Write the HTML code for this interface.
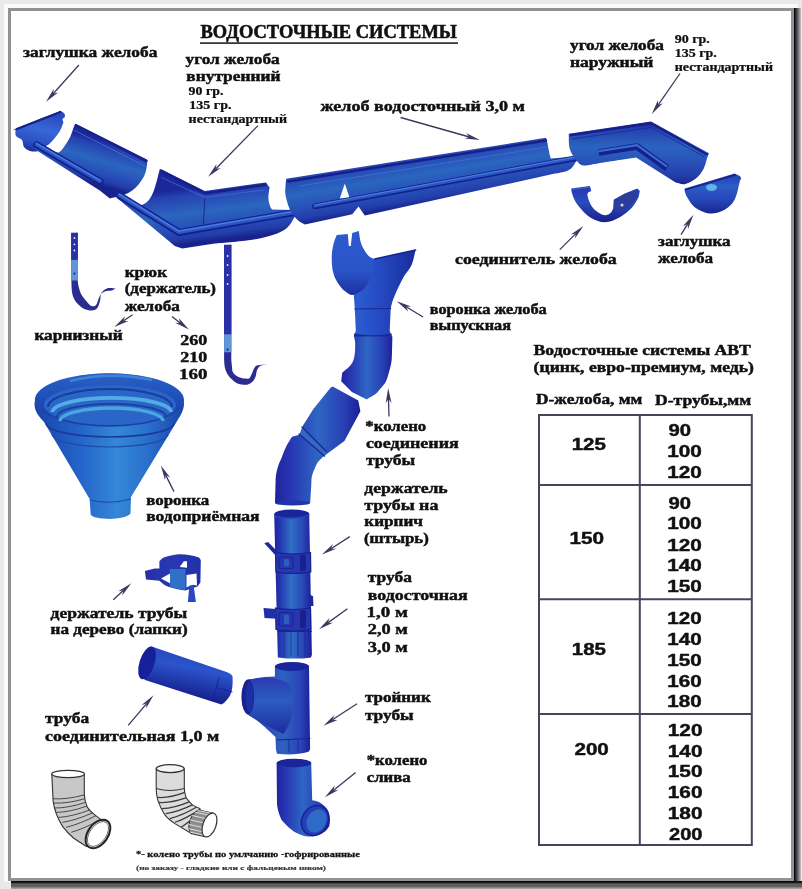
<!DOCTYPE html>
<html><head><meta charset="utf-8"><style>
html,body{margin:0;padding:0;}
body{width:802px;height:889px;background:#e8e8e8;position:relative;overflow:hidden;}
svg{position:absolute;left:0;top:0;will-change:transform;}
</style></head><body>
<svg width="802" height="889" viewBox="0 0 802 889">
<defs>
<linearGradient id="shR" x1="0" x2="1" y1="0" y2="0">
<stop offset="0" stop-color="#18181e"/><stop offset="0.2" stop-color="#202028"/><stop offset="0.4" stop-color="#4a4a52"/><stop offset="0.6" stop-color="#6c6c74"/><stop offset="0.8" stop-color="#9a9aa2"/><stop offset="1" stop-color="#c8c8c8"/>
</linearGradient>
<linearGradient id="shB" x1="0" x2="0" y1="0" y2="1">
<stop offset="0" stop-color="#101010"/><stop offset="0.2" stop-color="#1c1c1c"/><stop offset="0.35" stop-color="#555"/><stop offset="0.5" stop-color="#6a6a6a"/><stop offset="0.6" stop-color="#4c4c4c"/><stop offset="0.75" stop-color="#777"/><stop offset="0.9" stop-color="#999"/><stop offset="1" stop-color="#b0b0b0"/>
</linearGradient>
</defs>
<rect x="0" y="0" width="802" height="889" fill="#e9e9e9"/>
<rect x="4" y="4" width="794" height="878" fill="#fafafa"/>
<rect x="8" y="8" width="786" height="873" fill="#929292"/>
<rect x="11" y="11" width="780" height="867" fill="#ffffff"/>
<rect x="794" y="8" width="7" height="881" fill="url(#shR)"/>
<rect x="794" y="8" width="1" height="874" fill="#08080c"/>
<rect x="11" y="881" width="791" height="8" fill="url(#shB)"/>
<rect x="11" y="881" width="784" height="1.2" fill="#0c0c0c"/>
<path d="M71.2,233.5 L77.7,232.7 L77.7,281.0 C77.9,282.0 78.2,284.9 78.8,287.2 C79.4,289.5 80.2,292.3 81.5,294.7 C82.8,297.1 85.1,299.5 86.7,301.4 C88.3,303.3 89.8,305.1 91.2,305.9 C92.6,306.6 93.9,306.4 94.9,305.9 C95.9,305.4 96.6,304.1 97.2,302.9 C97.8,301.6 98.0,300.0 98.7,298.4 C99.4,296.8 100.2,294.4 101.6,293.2 C103.0,291.9 105.3,291.3 106.9,290.9 C108.5,290.5 110.0,291.0 111.4,290.6 C112.9,290.2 114.9,288.8 115.6,288.4 C114.4,288.3 110.5,287.6 108.4,288.0 C106.3,288.4 104.3,289.9 103.1,290.9 C101.8,291.9 101.4,292.4 100.9,293.9 C100.4,295.4 100.6,298.0 100.2,299.9 C99.8,301.8 99.3,303.7 98.7,305.2 C98.1,306.7 97.5,308.0 96.4,308.9 C95.3,309.8 93.7,310.3 91.9,310.4 C90.2,310.5 87.9,310.4 85.9,309.6 C83.9,308.9 81.9,307.5 80.0,305.9 C78.1,304.3 76.0,302.1 74.7,299.9 C73.4,297.6 72.6,295.5 72.1,292.4 C71.5,289.2 71.5,282.9 71.4,281.0 L71.2,233.5 Z" fill="#2a2c92" />
<rect x="71.2" y="232.7" width="6.6" height="27.199999999999978" fill="#2a30a6"/>
<rect x="71.2" y="259.9" width="6.6" height="20.600000000000023" fill="#5e96d8"/>
<circle cx="74.4" cy="238" r="0.9" fill="#e8eeff"/>
<circle cx="74.4" cy="244.3" r="0.9" fill="#e8eeff"/>
<circle cx="74.4" cy="250.5" r="0.9" fill="#e8eeff"/>
<circle cx="74.4" cy="273.6" r="1.1" fill="#1a2a90"/>
<path d="M224.1,245.5 L231.3,244.7 L231.3,359.5 C231.4,360.8 231.8,364.9 232.0,367.0 C232.2,369.1 232.1,370.7 232.8,372.1 C233.5,373.5 234.8,374.6 236.0,375.5 C237.2,376.4 238.6,377.0 240.0,377.5 C241.4,378.0 243.0,378.4 244.5,378.5 C246.0,378.6 247.9,378.9 249.0,378.4 C250.1,377.9 250.4,376.6 251.0,375.5 C251.6,374.4 252.1,373.3 252.6,372.1 C253.1,370.9 253.4,369.6 254.0,368.5 C254.6,367.4 255.2,366.4 256.2,365.8 C257.2,365.2 258.0,365.3 260.0,365.0 C262.0,364.7 266.7,364.3 268.0,364.2 C267.2,364.3 264.7,364.5 263.3,364.9 C261.9,365.3 260.6,365.6 259.5,366.5 C258.4,367.4 257.6,368.9 257.0,370.3 C256.4,371.7 256.4,373.5 256.0,375.0 C255.6,376.5 255.2,378.1 254.4,379.3 C253.7,380.6 252.7,381.6 251.5,382.5 C250.3,383.4 248.9,384.4 247.2,384.7 C245.5,385.0 243.3,384.8 241.5,384.5 C239.7,384.2 238.1,383.8 236.4,382.9 C234.7,382.0 233.0,380.5 231.5,379.0 C230.0,377.5 228.5,375.7 227.4,373.9 C226.3,372.1 225.6,370.4 225.0,368.0 C224.4,365.6 224.2,360.9 224.1,359.5 L224.1,245.5 Z" fill="#2a2c92" />
<rect x="224.1" y="244.7" width="7.300000000000017" height="89.60000000000001" fill="#2a30a6"/>
<rect x="224.1" y="334.3" width="7.300000000000017" height="18.0" fill="#5e96d8"/>
<circle cx="227.6" cy="256" r="0.9" fill="#e8eeff"/>
<circle cx="227.6" cy="265" r="0.9" fill="#e8eeff"/>
<circle cx="227.6" cy="275" r="0.9" fill="#e8eeff"/>
<circle cx="227.6" cy="284" r="0.9" fill="#e8eeff"/>
<circle cx="227.6" cy="349.6" r="1.1" fill="#1a2a90"/>
<linearGradient id="gFn" gradientUnits="userSpaceOnUse" x1="35" y1="0" x2="184" y2="0"><stop offset="0" stop-color="#1a44ac"/><stop offset="0.3" stop-color="#2464c8"/><stop offset="0.55" stop-color="#3488d8"/><stop offset="0.75" stop-color="#2a70cc"/><stop offset="1" stop-color="#1a44aa"/></linearGradient>
<path d="M34.5,404 C34.5,388 70,373.2 109.8,373.2 C150,373.2 184,387 184,403.5 C184,411 179.5,417 176.5,422 L131,497 L130.5,513.6 C126,520.5 94,520.5 90.7,514.5 L89.6,499 L44,422 C38.5,416 34.5,411 34.5,404 Z" fill="url(#gFn)" />
<linearGradient id="gFr" gradientUnits="userSpaceOnUse" x1="0" y1="373" x2="0" y2="428"><stop offset="0" stop-color="#2a62c8"/><stop offset="0.5" stop-color="#1e4cb4"/><stop offset="1" stop-color="#1a3ea4"/></linearGradient>
<ellipse cx="109.4" cy="400" rx="74.6" ry="26.8" fill="url(#gFr)"/>
<ellipse cx="110" cy="405" rx="66" ry="20" fill="#2a66c8"/>
<path d="M48,407 A62,18 0 0 1 172,407" fill="none" stroke="#1a3c9c" stroke-width="2.2"/>
<path d="M52.5,412 A59,14 0 0 1 171,412" fill="none" stroke="#52ade6" stroke-width="3.8"/>
<path d="M57,417 A54,13 0 0 1 166,417" fill="none" stroke="#1c3e9e" stroke-width="1.8"/>
<path d="M60,421 A51.5,13 0 0 1 163,421" fill="none" stroke="#4aa6e2" stroke-width="3.4"/>
<path d="M70,381 Q110,371 152,380" fill="none" stroke="#3a86d4" stroke-width="2.5"/>
<path d="M46,423 A64,14 0 0 0 174,423" fill="none" stroke="#1a3a98" stroke-width="1.6"/>
<path d="M52,434 A58,13 0 0 0 168,434" fill="none" stroke="#1e4aa8" stroke-width="1.2"/>
<path d="M90,500 Q110,505 130.5,499" fill="none" stroke="#1c4aa8" stroke-width="1.2"/>
<linearGradient id="gDP" gradientUnits="userSpaceOnUse" x1="332" y1="0" x2="416" y2="0"><stop offset="0" stop-color="#2046b8"/><stop offset="0.3" stop-color="#2c5cd0"/><stop offset="0.6" stop-color="#2448c0"/><stop offset="1" stop-color="#1a2c9c"/></linearGradient>
<path d="M374.7,258.9 L415.6,249.9 C414.9,252.4 413.6,260.4 411.6,264.9 C409.6,269.4 405.9,272.9 403.6,276.9 C401.3,280.9 399.5,284.8 397.7,288.8 C395.9,292.8 393.9,297.5 392.7,300.8 C391.5,304.1 391.0,307.5 390.7,308.8 L389.7,330.7 L391.7,337.0 L353.8,337.0 L355.8,330.7 L354.8,308.8 L353.8,294.8 L374.7,258.9 Z" fill="url(#gDP)" />
<linearGradient id="gHood" gradientUnits="userSpaceOnUse" x1="0" y1="232" x2="0" y2="296"><stop offset="0" stop-color="#2c5ad0"/><stop offset="0.6" stop-color="#2a54c8"/><stop offset="1" stop-color="#1c2e9e"/></linearGradient>
<path d="M336.8,235.0 L347.8,234.0 L348.8,245.9 L350.8,245.9 L352.2,233.0 L358.8,231.0 C359.1,232.8 359.9,239.0 360.7,242.0 C361.5,245.0 362.4,246.7 363.7,249.0 C365.0,251.3 366.9,254.2 368.7,255.9 C370.5,257.6 373.7,258.5 374.7,259.0 C374.5,260.2 374.0,263.7 373.5,266.0 C373.0,268.3 373.0,269.4 371.7,272.9 C370.4,276.4 368.7,283.1 365.7,286.8 C362.7,290.5 357.1,294.0 353.8,294.8 C350.5,295.6 348.5,293.8 345.8,291.8 C343.1,289.8 340.0,286.4 337.8,282.9 C335.6,279.4 333.8,275.6 332.8,270.9 C331.8,266.2 331.6,259.6 331.8,254.9 C332.0,250.2 333.0,246.3 333.8,243.0 C334.6,239.7 336.3,236.3 336.8,235.0 Z" fill="url(#gHood)" />
<path d="M374.7,259.0 L415.6,250.0" fill="none" stroke="#1a2490" stroke-width="1.6" stroke-linecap="round"/>
<path d="M354.8,309.0 L390.7,308.5" fill="none" stroke="#1a2890" stroke-width="1.2" stroke-linecap="round"/>
<path d="M353.8,333.5 Q372,337 391.7,333.5 L391.7,341.5 Q372,345 355,341.5 Z" fill="#1a2a98"/>
<linearGradient id="gEl1" gradientUnits="userSpaceOnUse" x1="341" y1="0" x2="393" y2="0"><stop offset="0" stop-color="#2222a0"/><stop offset="0.2" stop-color="#2838b4"/><stop offset="0.5" stop-color="#2e66c4"/><stop offset="0.8" stop-color="#2840b4"/><stop offset="1" stop-color="#1c1e96"/></linearGradient>
<path d="M355.0,336.5 L392.4,336.5 C392.3,339.1 392.2,347.8 392.0,352.0 C391.8,356.2 391.9,358.7 391.4,362.0 C390.9,365.3 389.9,368.8 389.0,372.0 C388.1,375.2 387.3,378.6 386.0,381.3 C384.7,384.0 382.8,385.9 381.0,388.0 C379.2,390.1 377.8,392.2 375.4,394.1 C373.0,396.0 368.2,398.5 366.8,399.4 L351.9,392.0 L341.2,381.3 L342.2,372.7 C343.4,371.6 347.8,368.4 349.7,366.3 C351.6,364.2 352.6,362.7 353.5,360.0 C354.4,357.3 354.9,353.9 355.1,350.0 C355.4,346.1 355.0,338.8 355.0,336.5 Z" fill="url(#gEl1)" />
<linearGradient id="gEl2" gradientUnits="userSpaceOnUse" x1="275" y1="0" x2="361" y2="0"><stop offset="0" stop-color="#2222a0"/><stop offset="0.2" stop-color="#2838b4"/><stop offset="0.5" stop-color="#2e66c4"/><stop offset="0.8" stop-color="#2840b4"/><stop offset="1" stop-color="#1c1e96"/></linearGradient>
<path d="M332.6,386.6 L358.3,400.5 L360.4,411.2 L344.4,441.1 L324.1,456.0 C323.1,457.0 319.4,460.2 318.0,462.0 C316.6,463.8 316.5,464.4 315.5,466.7 C314.5,469.0 312.7,472.9 312.0,476.0 C311.3,479.1 311.6,480.5 311.3,485.0 C311.0,489.5 310.4,500.0 310.2,503.0 L275.0,503.0 C275.1,500.0 275.3,489.7 275.5,485.0 C275.7,480.3 275.5,478.3 276.0,475.0 C276.5,471.7 277.6,467.8 278.5,465.0 C279.4,462.2 280.1,461.2 281.4,458.2 C282.6,455.2 284.2,450.6 286.0,447.0 C287.8,443.4 291.0,438.5 292.0,436.8 L299.5,434.7 L302.7,426.1 L313.4,409.0 L330.5,387.7 L332.6,386.6 Z" fill="url(#gEl2)" />
<path d="M302.5,427.5 L327,451 L324.5,456 L299.5,434.5 Z" fill="#3468c4" />
<path d="M302.0,427.0 L326.5,451.5" fill="none" stroke="#1a2890" stroke-width="1.5" stroke-linecap="round"/>
<path d="M299.0,434.0 L324.5,456.0" fill="none" stroke="#1a2890" stroke-width="1.4" stroke-linecap="round"/>
<ellipse cx="292.6" cy="503" rx="17.6" ry="2.6" fill="#1e36a8"/>
<linearGradient id="gPp" gradientUnits="userSpaceOnUse" x1="274" y1="0" x2="312" y2="0"><stop offset="0" stop-color="#2222a0"/><stop offset="0.15" stop-color="#2434b0"/><stop offset="0.45" stop-color="#3070c6"/><stop offset="0.75" stop-color="#2a48b8"/><stop offset="1" stop-color="#1c1e96"/></linearGradient>
<path d="M274.2,514.4 C276,509.5 307,508.5 309.2,513.5 L311.9,654.7 L311,657.4 C300,659 290,659 278,657.4 L277.8,656.5 Z" fill="url(#gPp)" />
<ellipse cx="291.7" cy="514" rx="17.3" ry="4.5" fill="#18269a"/>
<path d="M275,516 Q292,521 309.5,515" fill="none" stroke="#2a48c0" stroke-width="1.3"/>
<path d="M275.5,552.5 Q293,555.5 310.5,552.5 L310.8,572 Q293,575 276,572 Z" fill="#2636b0" stroke="#18208e" stroke-width="1.2"/>
<rect x="279" y="557.0" width="14" height="11.5" rx="1.5" fill="none" stroke="#1a2492" stroke-width="1.2"/>
<rect x="284" y="559.0" width="5" height="7.5" rx="1.5" fill="#2e5cc4"/>
<rect x="300" y="554.5" width="6" height="16.5" rx="2.5" fill="#18208e"/>
<path d="M275.5,608 Q293,611 310.5,608 L310.8,629.5 Q293,632.5 276,629.5 Z" fill="#2636b0" stroke="#18208e" stroke-width="1.2"/>
<rect x="279" y="612.5" width="14" height="13.5" rx="1.5" fill="none" stroke="#1a2492" stroke-width="1.2"/>
<rect x="284" y="614.5" width="5" height="9.5" rx="1.5" fill="#2e5cc4"/>
<rect x="300" y="610" width="6" height="18.5" rx="2.5" fill="#18208e"/>
<path d="M264.3,543.2 L268,542 L277,551 L276,556 Z" fill="#1c2a9c" />
<path d="M263.5,608 L276,609 L276.5,618.7 L264.5,618 Z" fill="#1e30a8" />
<path d="M309,594.5 L313,596 L313.5,606 L309.5,606 Z" fill="#1c2a9c" />
<path d="M278.0,631.5 L311.5,631.5" fill="none" stroke="#18229a" stroke-width="1.2" stroke-linecap="round"/>
<path d="M284.0,632.0 L284.0,656.0" fill="none" stroke="#1a2696" stroke-width="0.8" stroke-linecap="round"/>
<path d="M291.0,632.0 L291.0,656.0" fill="none" stroke="#1a2696" stroke-width="0.8" stroke-linecap="round"/>
<path d="M298.0,632.0 L298.0,656.0" fill="none" stroke="#1a2696" stroke-width="0.8" stroke-linecap="round"/>
<path d="M305.0,632.0 L305.0,656.0" fill="none" stroke="#1a2696" stroke-width="0.8" stroke-linecap="round"/>
<linearGradient id="gTee" gradientUnits="userSpaceOnUse" x1="241" y1="0" x2="311" y2="0"><stop offset="0" stop-color="#2222a0"/><stop offset="0.2" stop-color="#2838b4"/><stop offset="0.6" stop-color="#2e62c2"/><stop offset="0.85" stop-color="#2a44b6"/><stop offset="1" stop-color="#1c1e96"/></linearGradient>
<path d="M274.9,666.7 C277,661.5 307,661.5 309,666.7 L310.1,749 L309,751.5 C298,755 288,755 277,753.8 L275.9,749 L275.5,737 C268,730 262,724 255,719 C251,716.5 248.5,715 247,713.5 C243,710 241.5,704 241.5,697 C241.5,689 243.5,683 248,679.8 C258,677.5 266,676.6 274.9,676.4 Z" fill="url(#gTee)" />
<linearGradient id="gBr" gradientUnits="userSpaceOnUse" x1="0" y1="678" x2="0" y2="735"><stop offset="0" stop-color="#2a3cb0"/><stop offset="0.4" stop-color="#2c5cc0"/><stop offset="1" stop-color="#1e2a9c"/></linearGradient>
<path d="M248,679.8 C262,677.5 275,676.5 287.7,682.8 C292,690 294,703 291.9,714.8 C290,723 287,729 283.4,734 C270,727 260,722 255,719 C250,716 247.5,714.5 247,713.5 Z" fill="url(#gBr)" />
<ellipse cx="248" cy="697" rx="6.2" ry="17.4" fill="#1a2290"/>
<ellipse cx="249.5" cy="697" rx="4" ry="15" fill="#1e2ea4"/>
<ellipse cx="292" cy="666.5" rx="17" ry="4.5" fill="#18269a"/>
<path d="M277.0,740.0 L310.0,738.5" fill="none" stroke="#1a2490" stroke-width="1.1" stroke-linecap="round"/>
<path d="M289.0,740.0 L289.0,752.0" fill="none" stroke="#1a2690" stroke-width="0.8" stroke-linecap="round"/>
<path d="M298.0,740.0 L298.0,752.0" fill="none" stroke="#1a2690" stroke-width="0.8" stroke-linecap="round"/>
<linearGradient id="gEl3" gradientUnits="userSpaceOnUse" x1="276" y1="0" x2="330" y2="0"><stop offset="0" stop-color="#2222a0"/><stop offset="0.2" stop-color="#2838b4"/><stop offset="0.5" stop-color="#2e66c4"/><stop offset="0.8" stop-color="#2840b4"/><stop offset="1" stop-color="#1c1e96"/></linearGradient>
<path d="M276.6,762.9 C279,758 309,758 311.2,762.9 L312.2,800.2 C316,801 318,801.5 319.7,802.4 C324,805 327,808 328.2,810.9 C330,815 330.5,820 329.3,825.9 C327,831 321,835 315.4,836 C310,837 306,836.5 302.6,835.5 C298,834 295,832.5 291.9,830.1 C287,826 284,823 281.3,819.5 C279,814 277.5,809 277,804.5 Z" fill="url(#gEl3)" />
<ellipse cx="294" cy="763" rx="17.3" ry="4.3" fill="#18269a"/>
<ellipse cx="315" cy="820.5" rx="13" ry="15.5" transform="rotate(30 315 820.5)" fill="#2440b4" stroke="#1a1e92" stroke-width="1.5"/>
<ellipse cx="316.5" cy="821" rx="9.5" ry="12" transform="rotate(30 316.5 821)" fill="#2e6ac8"/>
<linearGradient id="gHd" gradientUnits="userSpaceOnUse" x1="145" y1="0" x2="201" y2="0"><stop offset="0" stop-color="#2430a8"/><stop offset="0.5" stop-color="#2838b4"/><stop offset="1" stop-color="#2030a8"/></linearGradient>
<path d="M159.4,561.3 C160.2,560.6 161.5,558.4 164.3,557.3 C167.2,556.2 172.4,554.9 176.5,554.5 C180.6,554.1 185.0,554.4 188.6,554.9 C192.2,555.4 196.3,556.4 198.3,557.3 C200.3,558.2 200.4,560.0 200.8,560.5 L200.4,582.4 L197.5,586.5 L185.4,590.5 C183.9,590.2 179.8,589.7 176.5,588.9 C173.2,588.1 168.8,587.1 165.9,585.7 C163.1,584.4 160.5,581.6 159.4,580.8 L146.0,579.5 L144.9,571.0 L154.6,568.5 L159.4,568.5 L159.4,561.3 Z" fill="url(#gHd)" />
<path d="M170,569 L185.5,569 L185.5,590.3 L170,587 Z" fill="#3070c8" />
<path d="M161.1,578.4 L170,573.5 L170,583.2 Z" fill="#fff" />
<path d="M179.7,567 L183.8,561.3 L187,561.3 L187,567.8 Z" fill="#fff" />
<path d="M186.5,575 L196.5,573.5 L197,585.5 L193.5,585 L189.5,586 L186.5,587.5 Z" fill="#fff" />
<path d="M189.4,585.7 L193.5,584.8 L195.9,601.9 L187.8,601.9 Z" fill="#2c48c0" />
<linearGradient id="gCP" gradientUnits="userSpaceOnUse" x1="170" y1="640" x2="160" y2="690"><stop offset="0" stop-color="#2040b8"/><stop offset="0.45" stop-color="#2c54cc"/><stop offset="1" stop-color="#16228e"/></linearGradient>
<path d="M150.9,646.2 L225.8,671.7 C229.5,673 231.5,674.5 232.5,676.1 C233,684 232.5,690 230.3,694.9 C228,699 225,702.5 221.3,704.6 L145,679.9 C141,676 139.5,672 139.7,667 C140,658 145,648 150.9,646.2 Z" fill="url(#gCP)" />
<ellipse cx="147" cy="663" rx="7.5" ry="17" transform="rotate(18 147 663)" fill="#16209a"/>
<path d="M219.0,678.0 L213.0,700.0" fill="none" stroke="#17209a" stroke-width="1.0" stroke-linecap="round"/>
<path d="M218.0,688.0 L232.0,692.0" fill="none" stroke="#17209a" stroke-width="1.0" stroke-linecap="round"/><linearGradient id="gEC" gradientUnits="userSpaceOnUse" x1="40" y1="112" x2="30" y2="152"><stop offset="0" stop-color="#2a48c0"/><stop offset="0.4" stop-color="#3668d6"/><stop offset="0.75" stop-color="#2a50c4"/><stop offset="1" stop-color="#1a2a98"/></linearGradient>
<path d="M15.5,130.0 C15.8,129.7 9.5,131.2 17.0,128.0 C24.5,124.8 53.2,113.8 60.4,111.0 C61.1,111.4 63.7,112.5 64.4,113.5 C65.2,114.5 64.8,116.4 64.9,117.0 L62.4,119.0 L63.4,122.5 C62.8,123.9 61.5,128.2 59.9,130.9 C58.3,133.6 55.9,136.6 53.9,138.9 C51.9,141.2 50.2,143.2 47.9,144.9 C45.6,146.6 41.8,147.9 40.0,149.0 C38.2,150.1 38.6,151.1 36.9,151.4 C35.2,151.7 32.1,151.7 30.0,150.9 C27.9,150.2 25.3,148.7 24.0,146.9 C22.7,145.1 23.3,141.7 22.0,139.9 C20.7,138.1 17.1,137.6 16.0,135.9 C14.9,134.2 15.6,131.0 15.5,130.0 Z" fill="url(#gEC)" />
<path d="M17.0,129.0 L60.4,112.0" fill="none" stroke="#1a2288" stroke-width="2.2" stroke-linecap="round"/>
<linearGradient id="gS1" gradientUnits="userSpaceOnUse" x1="100" y1="140" x2="88" y2="182"><stop offset="0" stop-color="#1c2898"/><stop offset="0.12" stop-color="#2642b2"/><stop offset="0.45" stop-color="#2a66bf"/><stop offset="0.7" stop-color="#2850b8"/><stop offset="0.88" stop-color="#223eaa"/><stop offset="1" stop-color="#18228c"/></linearGradient>
<path d="M75.3,123.7 L146.7,159.4 L147.2,163.6 C146.8,165.5 146.4,171.1 144.7,174.8 C143.0,178.5 140.1,182.9 137.2,186.0 C134.3,189.1 130.9,191.6 127.2,193.5 C123.5,195.4 117.6,196.5 114.7,197.3 C111.8,198.1 110.6,198.3 109.8,198.5 L99.8,190.5 L39.9,152.4 C38.9,151.7 35.1,149.5 34.0,148.0 C32.9,146.5 33.0,144.8 33.2,143.6 C33.4,142.4 34.7,141.4 35.0,141.0 L49.9,148.6 C50.5,149.0 52.1,150.5 53.6,151.1 C55.1,151.7 56.9,153.0 58.6,152.4 C60.3,151.8 61.7,149.9 63.6,147.4 C65.5,144.9 68.2,140.7 69.9,137.4 C71.6,134.1 73.0,129.1 73.6,127.4 L75.3,123.7 Z" fill="url(#gS1)" />
<path d="M76.0,125.3 L146.5,161.0" fill="none" stroke="#18228a" stroke-width="2.6" stroke-linecap="round"/>
<path d="M74.5,130.5 L145.0,166.0" fill="none" stroke="#4a78e0" stroke-width="0.7" stroke-linecap="round"/>
<path d="M36.5,144.8 L100.0,181.5" fill="none" stroke="#16208a" stroke-width="6.8" stroke-linejoin="round" stroke-linecap="round"/>
<path d="M36.5,144.4 L100.0,181.1" fill="none" stroke="#2a56c6" stroke-width="3.9439999999999995" stroke-linejoin="round" stroke-linecap="round"/>
<path d="M36.5,143.5 L100.0,180.2" fill="none" stroke="#4a82e0" stroke-width="1.1560000000000001" stroke-linejoin="round" stroke-linecap="round"/>
<linearGradient id="gS2" gradientUnits="userSpaceOnUse" x1="215" y1="185" x2="222" y2="240"><stop offset="0" stop-color="#1c2898"/><stop offset="0.12" stop-color="#2642b2"/><stop offset="0.45" stop-color="#2a66bf"/><stop offset="0.7" stop-color="#2850b8"/><stop offset="0.88" stop-color="#223eaa"/><stop offset="1" stop-color="#18228c"/></linearGradient>
<path d="M159.9,168.7 L204.8,191.1 L265.9,182.4 L269.6,187.4 C269.4,189.0 268.4,194.1 268.4,197.0 C268.4,199.9 269.0,202.7 269.6,204.8 C270.2,206.9 271.6,208.8 272.0,209.6 L294.5,209.9 C295.0,210.3 297.1,211.5 297.5,212.5 C297.9,213.5 297.1,215.5 297.0,216.1 L294.5,217.3 C292.9,219.4 290.4,226.3 284.6,229.8 C278.8,233.3 271.2,236.2 259.6,238.5 C248.0,240.8 222.2,242.7 214.7,243.5 L182.3,248.5 L174.8,246.0 L122.5,202.4 C121.7,201.8 118.5,199.8 117.5,198.6 C116.5,197.4 116.5,196.0 116.5,195.0 C116.5,194.0 117.3,192.8 117.5,192.4 L122.5,194.9 C124.2,195.9 129.5,199.4 132.4,201.1 C135.3,202.8 137.8,204.5 139.9,204.9 C142.0,205.3 143.2,204.7 144.9,203.6 C146.6,202.5 148.2,201.3 149.9,198.6 C151.6,195.9 153.5,191.6 154.9,187.4 C156.3,183.2 158.0,176.0 158.6,173.7 L159.9,168.7 Z" fill="url(#gS2)" />
<path d="M161.0,170.8 L204.8,193.3 L266.5,184.6" fill="none" stroke="#17208a" stroke-width="2.8" stroke-linejoin="round"/>
<path d="M161.1,177.4 L204.8,197.4 L264.6,189.9" fill="none" stroke="#4470dc" stroke-width="0.7" stroke-linejoin="round"/>
<path d="M204.8,198.6 L203.5,223.6" fill="none" stroke="#1a2890" stroke-width="1.0" stroke-linecap="round"/>
<path d="M119.5,195.5 L179.0,232.5 L295.0,212.5" fill="none" stroke="#16208a" stroke-width="7.0" stroke-linejoin="round" stroke-linecap="round"/>
<path d="M119.5,195.1 L179.0,232.1 L295.0,212.1" fill="none" stroke="#2a56c6" stroke-width="4.06" stroke-linejoin="round" stroke-linecap="round"/>
<path d="M119.5,194.2 L179.0,231.2 L295.0,211.2" fill="none" stroke="#4a82e0" stroke-width="1.1900000000000002" stroke-linejoin="round" stroke-linecap="round"/>
<linearGradient id="gS3" gradientUnits="userSpaceOnUse" x1="415" y1="150" x2="424" y2="205"><stop offset="0" stop-color="#1c2898"/><stop offset="0.12" stop-color="#2642b2"/><stop offset="0.45" stop-color="#2a66bf"/><stop offset="0.7" stop-color="#2850b8"/><stop offset="0.88" stop-color="#223eaa"/><stop offset="1" stop-color="#18228c"/></linearGradient>
<path d="M286.2,178.8 L546.0,137.7 L547.3,142.4 C547.7,144.5 549.2,152.2 549.8,154.9 C550.4,157.6 550.8,158.0 551.0,158.6 L579.5,156.3 C579.6,156.7 580.5,157.7 580.0,158.5 C579.5,159.3 577.8,159.6 576.5,161.0 C575.2,162.4 574.1,165.3 572.5,167.0 C570.9,168.7 569.8,169.8 566.9,170.9 C564.0,172.0 557.0,173.1 555.0,173.5 L364.8,215.5 L358.5,206.5 L352.3,214.2 L304.9,224.5 C303.6,223.7 299.9,222.2 297.4,219.7 C294.9,217.2 292.0,213.8 290.0,209.7 C288.0,205.6 286.2,199.1 285.5,195.0 C284.8,190.9 285.5,187.7 285.6,185.0 C285.7,182.3 286.1,179.8 286.2,178.8 Z" fill="url(#gS3)" />
<path d="M344.8,183.5 L339.8,198.5 L349.8,198.5 Z" fill="#fff" />
<path d="M288.0,181.5 L546.0,140.5" fill="none" stroke="#17208a" stroke-width="2.4" stroke-linecap="round"/>
<path d="M300.0,186.0 L547.0,147.0" fill="none" stroke="#4470dc" stroke-width="0.8" stroke-linecap="round"/>
<path d="M315.0,206.3 L578.0,157.8" fill="none" stroke="#16208a" stroke-width="5.8" stroke-linejoin="round" stroke-linecap="round"/>
<path d="M315.0,205.9 L578.0,157.4" fill="none" stroke="#2a56c6" stroke-width="3.364" stroke-linejoin="round" stroke-linecap="round"/>
<path d="M315.0,205.0 L578.0,156.5" fill="none" stroke="#4a82e0" stroke-width="0.986" stroke-linejoin="round" stroke-linecap="round"/>
<linearGradient id="gOC" gradientUnits="userSpaceOnUse" x1="640" y1="122" x2="640" y2="185"><stop offset="0" stop-color="#1c2898"/><stop offset="0.12" stop-color="#2642b2"/><stop offset="0.4" stop-color="#2a64be"/><stop offset="0.65" stop-color="#2850b8"/><stop offset="0.85" stop-color="#223eaa"/><stop offset="1" stop-color="#18228c"/></linearGradient>
<path d="M568.7,133.7 L651.0,121.5 L709.0,153.3 L707.1,158.0 C706.5,159.9 705.3,165.8 703.4,169.2 C701.5,172.6 699.0,176.1 695.9,178.6 C692.8,181.1 688.1,183.6 684.7,184.2 C681.3,184.8 676.9,182.6 675.3,182.3 L636.1,157.5 C630.1,158.4 608.7,161.7 600.0,163.0 C591.3,164.3 587.7,166.0 583.7,165.5 C579.7,165.0 578.5,162.7 576.2,159.9 C573.9,157.1 571.0,153.1 569.7,148.7 C568.5,144.3 568.9,136.2 568.7,133.7 Z" fill="url(#gOC)" />
<path d="M570.0,135.3 L651.0,123.3 L707.5,154.8" fill="none" stroke="#17208a" stroke-width="2.4" stroke-linejoin="round"/>
<path d="M572.0,139.0 L651.0,127.5 L704.0,156.5" fill="none" stroke="#1e2a9a" stroke-width="0.9" stroke-linejoin="round"/>
<path d="M598.7,152.5 L637.0,146.5 L666.9,168.0" fill="none" stroke="#16208a" stroke-width="6.5" stroke-linejoin="round"/>
<path d="M598.7,151.2 L637.0,145.2 L666.9,166.7" fill="none" stroke="#3a6ad6" stroke-width="2.2" stroke-linejoin="round"/>
<linearGradient id="gCN" gradientUnits="userSpaceOnUse" x1="600" y1="186" x2="600" y2="222"><stop offset="0" stop-color="#2438b0"/><stop offset="0.45" stop-color="#2a4cbc"/><stop offset="1" stop-color="#18208c"/></linearGradient>
<path d="M571.2,188.5 L589.9,186.0 L591.2,191.0 C590.6,191.6 587.2,192.1 587.4,194.8 C587.6,197.5 589.9,203.9 592.4,207.2 C594.9,210.5 599.5,213.6 602.4,214.7 C605.3,215.8 608.0,214.8 609.9,213.5 C611.8,212.2 613.0,209.3 613.6,207.0 C614.2,204.7 613.6,201.0 613.6,199.8 L624.8,193.5 L637.3,188.5 L639.8,191.0 L638.6,197.3 C637.5,199.0 635.4,203.9 632.3,207.2 C629.2,210.5 624.4,214.7 619.8,217.2 C615.2,219.7 609.9,222.2 604.9,222.2 C599.9,222.2 594.5,220.1 589.9,217.2 C585.3,214.3 580.4,208.4 577.5,204.7 C574.6,201.0 573.5,197.5 572.5,194.8 C571.5,192.1 571.4,189.6 571.2,188.5 Z" fill="url(#gCN)" />
<path d="M614.0,200.0 L624.8,194.0 L637.0,189.5 L637.5,196.0 C636.4,197.5 633.8,202.3 631.0,205.0 C628.2,207.7 623.8,211.3 621.0,212.0 C618.2,212.7 615.2,211.0 614.0,209.0 C612.8,207.0 614.0,201.5 614.0,200.0 Z" fill="#2a3c9c" />
<circle cx="622" cy="205" r="1.6" fill="#c8d4f0"/>
<path d="M573.0,189.5 L589.5,187.0" fill="none" stroke="#3a66d0" stroke-width="1.2" stroke-linecap="round"/>
<linearGradient id="gEC2" gradientUnits="userSpaceOnUse" x1="712" y1="174" x2="712" y2="214"><stop offset="0" stop-color="#2040b0"/><stop offset="0.3" stop-color="#2c5cc8"/><stop offset="0.65" stop-color="#2646b8"/><stop offset="1" stop-color="#18248e"/></linearGradient>
<path d="M684.7,188.5 L734.6,173.6 C735.6,174.2 740.0,175.9 740.8,177.3 C741.6,178.8 740.6,178.6 739.6,182.3 C738.6,186.1 737.1,195.2 734.6,199.8 C732.1,204.4 728.8,207.4 724.6,209.7 C720.4,212.0 714.6,213.9 709.6,213.5 C704.6,213.1 698.4,209.9 694.7,207.2 C691.0,204.5 688.9,200.0 687.2,197.3 C685.5,194.6 685.1,192.5 684.7,191.0 C684.3,189.5 684.7,188.9 684.7,188.5 Z" fill="url(#gEC2)" />
<path d="M686.0,189.5 L735.0,175.0" fill="none" stroke="#17208a" stroke-width="1.8" stroke-linecap="round"/>
<ellipse cx="711.5" cy="187.5" rx="5.5" ry="3.4" fill="#62b2ea"/><defs><clipPath id="cE1"><path d="M51.8,774 L53.1,801.1 C54.5,811 58,819 62.4,826.1 C66,831 70,835 74,838.5 L86.5,846.5 L107.5,820.5 L103.6,821.1 C99,818 97,817 94.9,814.9 C91,812 88.5,809 87.4,807.4 C85.5,803 84.5,799 84.3,794.9 L84.3,774 Z"/></clipPath><clipPath id="cE2"><path d="M156.2,768.7 L156.2,788.7 C156.5,795 157,799 158.7,802.4 C160.5,808 162.5,811 164.9,814.9 C168,819 171,821 174.9,823.6 L191.7,833.75 L200.3,810.3 L199.9,808.6 C197,807.5 194.5,806.5 192.4,804.9 C189.5,802 187.5,800 186.1,797.4 C185,794.5 184.5,792 184.3,788.7 L184.3,768.7 Z"/></clipPath></defs><g id="grayelbows" stroke="#333" stroke-width="1.1" stroke-linejoin="round">
<!-- elbow 1 -->
<path d="M51.8,774 L53.1,801.1 C54.5,811 58,819 62.4,826.1 C66,831 70,835 74,838.5 L86.5,846.5 L107.5,820.5 L103.6,821.1 C99,818 97,817 94.9,814.9 C91,812 88.5,809 87.4,807.4 C85.5,803 84.5,799 84.3,794.9 L84.3,774 Z" fill="#c8c8c8"/>
<g fill="none" stroke="#3a3a3a" stroke-width="0.9" clip-path="url(#cE1)"><path d="M52.5,798.7 Q66.4,799.8 84.3,794.9"/><path d="M53.1,803 Q67.0,803.9 84.9,798.7"/><path d="M54.3,808 Q67.9,808.2 85.5,802.4"/><path d="M56.2,812.4 Q69.5,812.2 86.8,806.1"/><path d="M58.7,817.4 Q72.3,816.6 89.9,809.9"/><path d="M62.4,822.3 Q76.0,820.3 93.6,812.4"/><path d="M66.2,827.3 Q79.8,824.1 97.4,814.9"/><path d="M71.2,832.3 Q84.8,828.5 102.3,818.6"/></g>
<ellipse cx="98" cy="834" rx="10" ry="16" transform="rotate(35.5 98 834)" fill="#fff" stroke="#222" stroke-width="2"/>
<ellipse cx="98" cy="834" rx="8.2" ry="14.2" transform="rotate(35.5 98 834)" fill="none" stroke="#555" stroke-width="0.8"/>
<ellipse cx="68.1" cy="774" rx="16.3" ry="3.6" fill="#fff" stroke="#333" stroke-width="1.2"/>
<!-- elbow 2 -->
<path d="M156.2,768.7 L156.2,788.7 C156.5,795 157,799 158.7,802.4 C160.5,808 162.5,811 164.9,814.9 C168,819 171,821 174.9,823.6 L191.7,833.75 L200.3,810.3 L199.9,808.6 C197,807.5 194.5,806.5 192.4,804.9 C189.5,802 187.5,800 186.1,797.4 C185,794.5 184.5,792 184.3,788.7 L184.3,768.7 Z" fill="#dcdcdc"/>
<path d="M156.2,788.5 Q170,792.5 184.3,788.5" fill="none" stroke="#333" stroke-width="1"/>
<g fill="none" stroke="#3a3a3a" stroke-width="1.2" clip-path="url(#cE2)"><path d="M157.5,797.4 Q168.7,798.4 184.9,792.4"/><path d="M158.7,802.4 Q170.6,803.4 187.4,797.4"/><path d="M161.8,808.6 Q173.9,808.4 191.1,801.1"/><path d="M165.6,813.6 Q177.8,812.1 194.9,803.6"/><path d="M169.9,818.6 Q181.8,815.9 198.6,806.1"/><path d="M174.9,822.3 Q185.5,819.0 201.1,808.6"/><path d="M181.1,827.3 Q189.2,822.1 202.3,809.9"/></g>
<path d="M200.3,810.3 L213.8,813.3 L205.2,836.75 L191.7,833.75 A6.5,12.5 20 0 1 200.3,810.3 Z" fill="#8c8c8c" stroke="#333" stroke-width="1"/>
<line x1="189.7" y1="832.0" x2="203.2" y2="835.0" stroke="#e8e8e8" stroke-width="0.9"/>
<line x1="188.7" y1="828.7" x2="202.2" y2="831.7" stroke="#e8e8e8" stroke-width="0.9"/>
<line x1="188.7" y1="824.4" x2="202.2" y2="827.4" stroke="#e8e8e8" stroke-width="0.9"/>
<line x1="189.9" y1="819.8" x2="203.4" y2="822.8" stroke="#e8e8e8" stroke-width="0.9"/>
<line x1="192.0" y1="815.5" x2="205.5" y2="818.5" stroke="#e8e8e8" stroke-width="0.9"/>
<line x1="194.7" y1="812.1" x2="208.2" y2="815.1" stroke="#e8e8e8" stroke-width="0.9"/>
<line x1="197.6" y1="810.3" x2="211.1" y2="813.3" stroke="#e8e8e8" stroke-width="0.9"/>
<ellipse cx="209.5" cy="825" rx="6.5" ry="12.5" transform="rotate(20 209.5 825)" fill="#fff" stroke="#333" stroke-width="1.2"/>
<ellipse cx="170.2" cy="768.6" rx="14" ry="4" fill="#f4f4f4" stroke="#333" stroke-width="1.3"/>
</g>

<g stroke="#45455e" stroke-width="2" fill="none"><rect x="539" y="415" width="212.8" height="430"/><line x1="639.8" y1="415" x2="639.8" y2="845"/><line x1="539" y1="485" x2="752" y2="485"/><line x1="539" y1="599.3" x2="752" y2="599.3"/><line x1="539" y1="714" x2="752" y2="714"/></g>
<rect x="200" y="42.3" width="258" height="1.6" fill="#222"/>
<line x1="78.9" y1="65.0" x2="53.2" y2="93.7" stroke="#3a3a60" stroke-width="1.3"/><path d="M46.0,101.8 L53.8,88.7 L53.2,93.7 L58.2,92.6 Z" fill="#3a3a60"/>
<line x1="258.0" y1="125.6" x2="215.6" y2="169.0" stroke="#3a3a60" stroke-width="1.3"/><path d="M208.1,176.7 L216.5,163.9 L215.6,169.0 L220.7,168.0 Z" fill="#3a3a60"/>
<line x1="400.6" y1="117.5" x2="469.4" y2="137.0" stroke="#3a3a60" stroke-width="1.3"/><path d="M479.8,139.9 L464.6,138.6 L469.4,137.0 L466.2,133.0 Z" fill="#3a3a60"/>
<line x1="680.0" y1="73.5" x2="658.0" y2="105.1" stroke="#3a3a60" stroke-width="1.3"/><path d="M651.8,114.0 L658.0,100.0 L658.0,105.1 L662.8,103.3 Z" fill="#3a3a60"/>
<line x1="559.8" y1="249.6" x2="575.8" y2="233.6" stroke="#3a3a60" stroke-width="1.3"/><path d="M583.4,225.9 L574.9,238.6 L575.8,233.6 L570.8,234.5 Z" fill="#3a3a60"/>
<line x1="681.0" y1="234.7" x2="687.7" y2="223.9" stroke="#3a3a60" stroke-width="1.3"/><path d="M693.4,214.7 L688.0,229.0 L687.7,223.9 L683.0,225.9 Z" fill="#3a3a60"/>
<line x1="132.6" y1="314.7" x2="123.3" y2="321.0" stroke="#3a3a60" stroke-width="1.3"/><path d="M114.3,327.0 L125.1,316.2 L123.3,321.0 L128.4,321.0 Z" fill="#3a3a60"/>
<line x1="171.9" y1="316.5" x2="180.3" y2="323.0" stroke="#3a3a60" stroke-width="1.3"/><path d="M188.9,329.6 L175.2,322.7 L180.3,323.0 L178.8,318.1 Z" fill="#3a3a60"/>
<line x1="423.1" y1="317.0" x2="406.1" y2="306.8" stroke="#3a3a60" stroke-width="1.3"/><path d="M396.8,301.3 L411.2,306.5 L406.1,306.8 L408.2,311.5 Z" fill="#3a3a60"/>
<line x1="389.0" y1="416.4" x2="388.5" y2="398.9" stroke="#3a3a60" stroke-width="1.3"/><path d="M388.2,388.1 L391.5,403.0 L388.5,398.9 L385.7,403.2 Z" fill="#3a3a60"/>
<line x1="174.0" y1="491.6" x2="165.7" y2="475.1" stroke="#3a3a60" stroke-width="1.3"/><path d="M160.9,465.4 L170.2,477.5 L165.7,475.1 L165.0,480.1 Z" fill="#3a3a60"/>
<line x1="113.3" y1="599.7" x2="123.3" y2="590.5" stroke="#3a3a60" stroke-width="1.3"/><path d="M131.3,583.2 L122.2,595.5 L123.3,590.5 L118.3,591.2 Z" fill="#3a3a60"/>
<line x1="128.2" y1="725.4" x2="146.6" y2="703.6" stroke="#3a3a60" stroke-width="1.3"/><path d="M153.5,695.3 L146.1,708.6 L146.6,703.6 L141.6,704.9 Z" fill="#3a3a60"/>
<line x1="349.8" y1="536.6" x2="331.0" y2="548.7" stroke="#3a3a60" stroke-width="1.3"/><path d="M321.9,554.5 L333.0,544.0 L331.0,548.7 L336.1,548.8 Z" fill="#3a3a60"/>
<line x1="347.4" y1="608.7" x2="327.8" y2="622.9" stroke="#3a3a60" stroke-width="1.3"/><path d="M319.0,629.2 L329.5,618.1 L327.8,622.9 L332.9,622.8 Z" fill="#3a3a60"/>
<line x1="357.0" y1="703.7" x2="332.4" y2="719.8" stroke="#3a3a60" stroke-width="1.3"/><path d="M323.4,725.7 L334.4,715.1 L332.4,719.8 L337.5,719.9 Z" fill="#3a3a60"/>
<line x1="355.6" y1="772.5" x2="333.3" y2="790.5" stroke="#3a3a60" stroke-width="1.3"/><path d="M324.9,797.3 L334.7,785.6 L333.3,790.5 L338.4,790.1 Z" fill="#3a3a60"/>
<text transform="translate(200.50 38.00) scale(0.9615 1)" font-family="Liberation Serif" font-weight="bold" font-size="19.2" fill="#111" stroke="#111" stroke-width="0.572" stroke-linejoin="round">ВОДОСТОЧНЫЕ СИСТЕМЫ</text>
<text transform="translate(23.00 57.00) scale(1.2156 1)" font-family="Liberation Serif" font-weight="bold" font-size="14.3" fill="#111" stroke="#111" stroke-width="0.452" stroke-linejoin="round">заглушка желоба</text>
<text transform="translate(185.60 63.80) scale(1.2088 1)" font-family="Liberation Serif" font-weight="bold" font-size="14.3" fill="#111" stroke="#111" stroke-width="0.455" stroke-linejoin="round">угол желоба</text>
<text transform="translate(186.30 81.40) scale(1.2158 1)" font-family="Liberation Serif" font-weight="bold" font-size="14.3" fill="#111" stroke="#111" stroke-width="0.452" stroke-linejoin="round">внутренний</text>
<text transform="translate(188.60 94.60) scale(1.2072 1)" font-family="Liberation Serif" font-weight="bold" font-size="11.5" fill="#111" stroke="#111" stroke-width="0.249" stroke-linejoin="round">90 гр.</text>
<text transform="translate(189.30 108.80) scale(1.2204 1)" font-family="Liberation Serif" font-weight="bold" font-size="11.5" fill="#111" stroke="#111" stroke-width="0.246" stroke-linejoin="round">135 гр.</text>
<text transform="translate(188.60 122.60) scale(1.2191 1)" font-family="Liberation Serif" font-weight="bold" font-size="11.5" fill="#111" stroke="#111" stroke-width="0.246" stroke-linejoin="round">нестандартный</text>
<text transform="translate(320.40 111.40) scale(1.2667 1)" font-family="Liberation Serif" font-weight="bold" font-size="14.3" fill="#111" stroke="#111" stroke-width="0.434" stroke-linejoin="round">желоб водосточный 3,0 м</text>
<text transform="translate(570.00 50.20) scale(1.2075 1)" font-family="Liberation Serif" font-weight="bold" font-size="14.3" fill="#111" stroke="#111" stroke-width="0.455" stroke-linejoin="round">угол желоба</text>
<text transform="translate(570.00 66.60) scale(1.2258 1)" font-family="Liberation Serif" font-weight="bold" font-size="14.3" fill="#111" stroke="#111" stroke-width="0.449" stroke-linejoin="round">наружный</text>
<text transform="translate(674.70 43.00) scale(1.2175 1)" font-family="Liberation Serif" font-weight="bold" font-size="11.5" fill="#111" stroke="#111" stroke-width="0.246" stroke-linejoin="round">90 гр.</text>
<text transform="translate(674.70 56.50) scale(1.2175 1)" font-family="Liberation Serif" font-weight="bold" font-size="11.5" fill="#111" stroke="#111" stroke-width="0.246" stroke-linejoin="round">135 гр.</text>
<text transform="translate(674.70 70.90) scale(1.2179 1)" font-family="Liberation Serif" font-weight="bold" font-size="11.5" fill="#111" stroke="#111" stroke-width="0.246" stroke-linejoin="round">нестандартный</text>
<text transform="translate(455.00 263.70) scale(1.2442 1)" font-family="Liberation Serif" font-weight="bold" font-size="14.3" fill="#111" stroke="#111" stroke-width="0.442" stroke-linejoin="round">соединитель желоба</text>
<text transform="translate(658.10 245.60) scale(1.1868 1)" font-family="Liberation Serif" font-weight="bold" font-size="14.3" fill="#111" stroke="#111" stroke-width="0.463" stroke-linejoin="round">заглушка</text>
<text transform="translate(658.10 263.00) scale(1.1976 1)" font-family="Liberation Serif" font-weight="bold" font-size="14.3" fill="#111" stroke="#111" stroke-width="0.459" stroke-linejoin="round">желоба</text>
<text transform="translate(124.70 276.50) scale(1.1990 1)" font-family="Liberation Serif" font-weight="bold" font-size="14.3" fill="#111" stroke="#111" stroke-width="0.459" stroke-linejoin="round">крюк</text>
<text transform="translate(124.70 293.00) scale(1.1850 1)" font-family="Liberation Serif" font-weight="bold" font-size="14.3" fill="#111" stroke="#111" stroke-width="0.464" stroke-linejoin="round">(держатель)</text>
<text transform="translate(124.70 310.50) scale(1.1998 1)" font-family="Liberation Serif" font-weight="bold" font-size="14.3" fill="#111" stroke="#111" stroke-width="0.458" stroke-linejoin="round">желоба</text>
<text transform="translate(34.40 340.10) scale(1.2125 1)" font-family="Liberation Serif" font-weight="bold" font-size="14.3" fill="#111" stroke="#111" stroke-width="0.454" stroke-linejoin="round">карнизный</text>
<text transform="translate(180.30 344.80) scale(1.2631 1)" font-family="Liberation Serif" font-weight="bold" font-size="14.3" fill="#111" stroke="#111" stroke-width="0.435" stroke-linejoin="round">260</text>
<text transform="translate(180.30 361.80) scale(1.2631 1)" font-family="Liberation Serif" font-weight="bold" font-size="14.3" fill="#111" stroke="#111" stroke-width="0.435" stroke-linejoin="round">210</text>
<text transform="translate(178.97 378.60) scale(1.3253 1)" font-family="Liberation Serif" font-weight="bold" font-size="14.3" fill="#111" stroke="#111" stroke-width="0.415" stroke-linejoin="round">160</text>
<text transform="translate(429.80 314.10) scale(1.1364 1)" font-family="Liberation Serif" font-weight="bold" font-size="14.3" fill="#111" stroke="#111" stroke-width="0.484" stroke-linejoin="round">воронка желоба</text>
<text transform="translate(429.80 329.80) scale(1.1351 1)" font-family="Liberation Serif" font-weight="bold" font-size="14.3" fill="#111" stroke="#111" stroke-width="0.485" stroke-linejoin="round">выпускная</text>
<text transform="translate(533.60 354.80) scale(1.2344 1)" font-family="Liberation Serif" font-weight="bold" font-size="14.3" fill="#111" stroke="#111" stroke-width="0.446" stroke-linejoin="round">Водосточные системы АВТ</text>
<text transform="translate(533.60 371.50) scale(1.2347 1)" font-family="Liberation Serif" font-weight="bold" font-size="14.3" fill="#111" stroke="#111" stroke-width="0.445" stroke-linejoin="round">(цинк, евро-премиум, медь)</text>
<text transform="translate(536.00 404.40) scale(1.2392 1)" font-family="Liberation Serif" font-weight="bold" font-size="14" fill="#111" stroke="#111" stroke-width="0.444" stroke-linejoin="round">D-желоба, мм</text>
<text transform="translate(655.00 404.80) scale(1.2564 1)" font-family="Liberation Serif" font-weight="bold" font-size="14" fill="#111" stroke="#111" stroke-width="0.438" stroke-linejoin="round">D-трубы,мм</text>
<text transform="translate(146.20 504.50) scale(1.1839 1)" font-family="Liberation Serif" font-weight="bold" font-size="14.3" fill="#111" stroke="#111" stroke-width="0.465" stroke-linejoin="round">воронка</text>
<text transform="translate(146.20 521.00) scale(1.2274 1)" font-family="Liberation Serif" font-weight="bold" font-size="14.3" fill="#111" stroke="#111" stroke-width="0.448" stroke-linejoin="round">водоприёмная</text>
<text transform="translate(365.30 431.00) scale(1.1746 1)" font-family="Liberation Serif" font-weight="bold" font-size="14.3" fill="#111" stroke="#111" stroke-width="0.468" stroke-linejoin="round">*колено</text>
<text transform="translate(365.90 448.40) scale(1.2564 1)" font-family="Liberation Serif" font-weight="bold" font-size="14.3" fill="#111" stroke="#111" stroke-width="0.438" stroke-linejoin="round">соединения</text>
<text transform="translate(365.90 465.00) scale(1.2229 1)" font-family="Liberation Serif" font-weight="bold" font-size="14.3" fill="#111" stroke="#111" stroke-width="0.450" stroke-linejoin="round">трубы</text>
<text transform="translate(364.30 493.40) scale(1.2341 1)" font-family="Liberation Serif" font-weight="bold" font-size="14.3" fill="#111" stroke="#111" stroke-width="0.446" stroke-linejoin="round">держатель</text>
<text transform="translate(364.30 509.60) scale(1.2516 1)" font-family="Liberation Serif" font-weight="bold" font-size="14.3" fill="#111" stroke="#111" stroke-width="0.439" stroke-linejoin="round">трубы на</text>
<text transform="translate(364.30 525.80) scale(1.2004 1)" font-family="Liberation Serif" font-weight="bold" font-size="14.3" fill="#111" stroke="#111" stroke-width="0.458" stroke-linejoin="round">кирпич</text>
<text transform="translate(363.90 543.00) scale(1.1742 1)" font-family="Liberation Serif" font-weight="bold" font-size="14.3" fill="#111" stroke="#111" stroke-width="0.468" stroke-linejoin="round">(штырь)</text>
<text transform="translate(367.80 582.40) scale(1.2171 1)" font-family="Liberation Serif" font-weight="bold" font-size="14.3" fill="#111" stroke="#111" stroke-width="0.452" stroke-linejoin="round">труба</text>
<text transform="translate(367.80 600.00) scale(1.2514 1)" font-family="Liberation Serif" font-weight="bold" font-size="14.3" fill="#111" stroke="#111" stroke-width="0.439" stroke-linejoin="round">водосточная</text>
<text transform="translate(366.47 616.90) scale(1.3270 1)" font-family="Liberation Serif" font-weight="bold" font-size="14.3" fill="#111" stroke="#111" stroke-width="0.414" stroke-linejoin="round">1,0 м</text>
<text transform="translate(367.80 634.20) scale(1.2848 1)" font-family="Liberation Serif" font-weight="bold" font-size="14.3" fill="#111" stroke="#111" stroke-width="0.428" stroke-linejoin="round">2,0 м</text>
<text transform="translate(367.80 651.70) scale(1.2848 1)" font-family="Liberation Serif" font-weight="bold" font-size="14.3" fill="#111" stroke="#111" stroke-width="0.428" stroke-linejoin="round">3,0 м</text>
<text transform="translate(50.50 618.20) scale(1.2286 1)" font-family="Liberation Serif" font-weight="bold" font-size="14.3" fill="#111" stroke="#111" stroke-width="0.448" stroke-linejoin="round">держатель трубы</text>
<text transform="translate(50.50 634.10) scale(1.2003 1)" font-family="Liberation Serif" font-weight="bold" font-size="14.3" fill="#111" stroke="#111" stroke-width="0.458" stroke-linejoin="round">на дерево (лапки)</text>
<text transform="translate(45.10 722.70) scale(1.2171 1)" font-family="Liberation Serif" font-weight="bold" font-size="14.3" fill="#111" stroke="#111" stroke-width="0.452" stroke-linejoin="round">труба</text>
<text transform="translate(45.10 740.50) scale(1.2597 1)" font-family="Liberation Serif" font-weight="bold" font-size="14.3" fill="#111" stroke="#111" stroke-width="0.437" stroke-linejoin="round">соединительная 1,0 м</text>
<text transform="translate(364.90 702.30) scale(1.1909 1)" font-family="Liberation Serif" font-weight="bold" font-size="14.3" fill="#111" stroke="#111" stroke-width="0.462" stroke-linejoin="round">тройник</text>
<text transform="translate(364.90 719.80) scale(1.2129 1)" font-family="Liberation Serif" font-weight="bold" font-size="14.3" fill="#111" stroke="#111" stroke-width="0.453" stroke-linejoin="round">трубы</text>
<text transform="translate(366.70 764.60) scale(1.1688 1)" font-family="Liberation Serif" font-weight="bold" font-size="14.3" fill="#111" stroke="#111" stroke-width="0.471" stroke-linejoin="round">*колено</text>
<text transform="translate(366.70 782.10) scale(1.1735 1)" font-family="Liberation Serif" font-weight="bold" font-size="14.3" fill="#111" stroke="#111" stroke-width="0.469" stroke-linejoin="round">слива</text>
<text transform="translate(136.00 856.50) scale(1.1679 1)" font-family="Liberation Serif" font-weight="bold" font-size="9" fill="#111" stroke="#111" stroke-width="0.257" stroke-linejoin="round">*- колено трубы по умлчанию -гофрированные</text>
<text transform="translate(136.00 870.00) scale(1.3835 1)" font-family="Liberation Serif" font-weight="bold" font-size="6.8" fill="#3a3a3a" stroke="#3a3a3a" stroke-width="0.217" stroke-linejoin="round">(по заказу - гладкие или с фальцевым швом)</text>
<text transform="translate(571.70 449.80) scale(1.2041 1)" font-family="Liberation Sans" font-weight="bold" font-size="17" fill="#111" stroke="#111" stroke-width="0.457" stroke-linejoin="round">125</text>
<text transform="translate(569.48 544.40) scale(1.2226 1)" font-family="Liberation Sans" font-weight="bold" font-size="17" fill="#111" stroke="#111" stroke-width="0.450" stroke-linejoin="round">150</text>
<text transform="translate(571.80 654.70) scale(1.2041 1)" font-family="Liberation Sans" font-weight="bold" font-size="17" fill="#111" stroke="#111" stroke-width="0.457" stroke-linejoin="round">185</text>
<text transform="translate(574.40 754.80) scale(1.2147 1)" font-family="Liberation Sans" font-weight="bold" font-size="17" fill="#111" stroke="#111" stroke-width="0.453" stroke-linejoin="round">200</text>
<text transform="translate(668.40 436.00) scale(1.1921 1)" font-family="Liberation Sans" font-weight="bold" font-size="17" fill="#111" stroke="#111" stroke-width="0.461" stroke-linejoin="round">90</text>
<text transform="translate(667.18 457.20) scale(1.2226 1)" font-family="Liberation Sans" font-weight="bold" font-size="17" fill="#111" stroke="#111" stroke-width="0.450" stroke-linejoin="round">100</text>
<text transform="translate(667.18 478.00) scale(1.2226 1)" font-family="Liberation Sans" font-weight="bold" font-size="17" fill="#111" stroke="#111" stroke-width="0.450" stroke-linejoin="round">120</text>
<text transform="translate(668.40 508.80) scale(1.1921 1)" font-family="Liberation Sans" font-weight="bold" font-size="17" fill="#111" stroke="#111" stroke-width="0.461" stroke-linejoin="round">90</text>
<text transform="translate(667.18 529.30) scale(1.2226 1)" font-family="Liberation Sans" font-weight="bold" font-size="17" fill="#111" stroke="#111" stroke-width="0.450" stroke-linejoin="round">100</text>
<text transform="translate(667.18 550.50) scale(1.2226 1)" font-family="Liberation Sans" font-weight="bold" font-size="17" fill="#111" stroke="#111" stroke-width="0.450" stroke-linejoin="round">120</text>
<text transform="translate(667.18 571.30) scale(1.2226 1)" font-family="Liberation Sans" font-weight="bold" font-size="17" fill="#111" stroke="#111" stroke-width="0.450" stroke-linejoin="round">140</text>
<text transform="translate(667.18 591.90) scale(1.2226 1)" font-family="Liberation Sans" font-weight="bold" font-size="17" fill="#111" stroke="#111" stroke-width="0.450" stroke-linejoin="round">150</text>
<text transform="translate(667.28 624.30) scale(1.2152 1)" font-family="Liberation Sans" font-weight="bold" font-size="17" fill="#111" stroke="#111" stroke-width="0.453" stroke-linejoin="round">120</text>
<text transform="translate(667.28 645.20) scale(1.2152 1)" font-family="Liberation Sans" font-weight="bold" font-size="17" fill="#111" stroke="#111" stroke-width="0.453" stroke-linejoin="round">140</text>
<text transform="translate(667.28 665.90) scale(1.2152 1)" font-family="Liberation Sans" font-weight="bold" font-size="17" fill="#111" stroke="#111" stroke-width="0.453" stroke-linejoin="round">150</text>
<text transform="translate(667.28 686.80) scale(1.2152 1)" font-family="Liberation Sans" font-weight="bold" font-size="17" fill="#111" stroke="#111" stroke-width="0.453" stroke-linejoin="round">160</text>
<text transform="translate(667.28 707.40) scale(1.2152 1)" font-family="Liberation Sans" font-weight="bold" font-size="17" fill="#111" stroke="#111" stroke-width="0.453" stroke-linejoin="round">180</text>
<text transform="translate(667.77 735.60) scale(1.2263 1)" font-family="Liberation Sans" font-weight="bold" font-size="17" fill="#111" stroke="#111" stroke-width="0.448" stroke-linejoin="round">120</text>
<text transform="translate(667.77 756.80) scale(1.2263 1)" font-family="Liberation Sans" font-weight="bold" font-size="17" fill="#111" stroke="#111" stroke-width="0.448" stroke-linejoin="round">140</text>
<text transform="translate(667.77 777.00) scale(1.2263 1)" font-family="Liberation Sans" font-weight="bold" font-size="17" fill="#111" stroke="#111" stroke-width="0.448" stroke-linejoin="round">150</text>
<text transform="translate(667.77 797.90) scale(1.2263 1)" font-family="Liberation Sans" font-weight="bold" font-size="17" fill="#111" stroke="#111" stroke-width="0.448" stroke-linejoin="round">160</text>
<text transform="translate(667.77 818.80) scale(1.2263 1)" font-family="Liberation Sans" font-weight="bold" font-size="17" fill="#111" stroke="#111" stroke-width="0.448" stroke-linejoin="round">180</text>
<text transform="translate(669.00 839.60) scale(1.1824 1)" font-family="Liberation Sans" font-weight="bold" font-size="17" fill="#111" stroke="#111" stroke-width="0.465" stroke-linejoin="round">200</text>
</svg>
</body></html>
